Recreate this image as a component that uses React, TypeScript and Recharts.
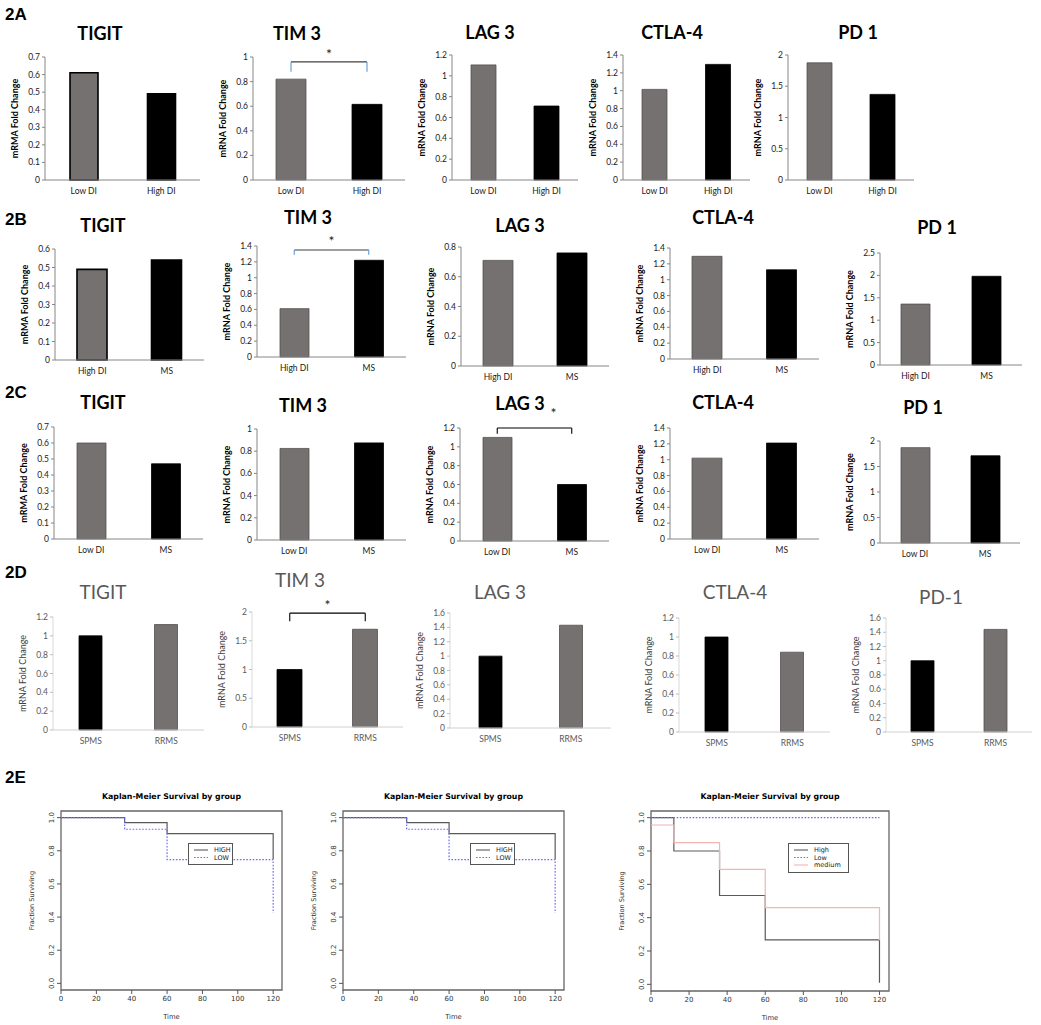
import React from "react";
import {
  BarChart, Bar, Cell, XAxis, YAxis, ReferenceLine,
  LineChart, Line, ReferenceArea, Legend,
} from "recharts";

// ---- bar panels (rows 2A-2D) ----
const genes = ["TIGIT", "TIM 3", "LAG 3", "CTLA-4", "PD 1"];
const genesD = ["TIGIT", "TIM 3", "LAG 3", "CTLA-4", "PD-1"];
const groupsA = ["Low DI", "High DI"];
const groupsB = ["High DI", "MS"];
const groupsC = ["Low DI", "MS"];
const groupsD = ["SPMS", "RRMS"];

const foldA = [[0.61, 0.49], [0.82, 0.615], [1.105, 0.71], [1.015, 1.295], [1.875, 1.37]];
const foldB = [[0.49, 0.54], [0.61, 1.22], [0.71, 0.76], [1.295, 1.125], [1.36, 1.98]];
const foldC = [[0.6, 0.47], [0.825, 0.875], [1.1, 0.6], [1.02, 1.21], [1.87, 1.71]];
const foldD = [[1.0, 1.12], [1.0, 1.7], [1.0, 1.43], [1.0, 0.84], [1.0, 1.44]];

const ticksA = [
  [0, 0.1, 0.2, 0.3, 0.4, 0.5, 0.6, 0.7],
  [0, 0.2, 0.4, 0.6, 0.8, 1],
  [0, 0.2, 0.4, 0.6, 0.8, 1, 1.2],
  [0, 0.2, 0.4, 0.6, 0.8, 1, 1.2, 1.4],
  [0, 0.5, 1, 1.5, 2],
];
const ticksB = [
  [0, 0.1, 0.2, 0.3, 0.4, 0.5, 0.6],
  [0, 0.2, 0.4, 0.6, 0.8, 1, 1.2, 1.4],
  [0, 0.2, 0.4, 0.6, 0.8],
  [0, 0.2, 0.4, 0.6, 0.8, 1, 1.2, 1.4],
  [0, 0.5, 1, 1.5, 2, 2.5],
];
const ticksC = [
  [0, 0.1, 0.2, 0.3, 0.4, 0.5, 0.6, 0.7],
  [0, 0.2, 0.4, 0.6, 0.8, 1],
  [0, 0.2, 0.4, 0.6, 0.8, 1, 1.2],
  [0, 0.2, 0.4, 0.6, 0.8, 1, 1.2, 1.4],
  [0, 0.5, 1, 1.5, 2],
];
const ticksD = [
  [0, 0.2, 0.4, 0.6, 0.8, 1, 1.2],
  [0, 0.5, 1, 1.5, 2],
  [0, 0.2, 0.4, 0.6, 0.8, 1, 1.2, 1.4, 1.6],
  [0, 0.2, 0.4, 0.6, 0.8, 1, 1.2],
  [0, 0.2, 0.4, 0.6, 0.8, 1, 1.2, 1.4, 1.6],
];

// significance bracket: [bar level, leg end]
const sigA = [null, [0.96, 0.88], null, null, null];
const sigB = [null, [1.35, 1.29], null, null, null];
const sigC = [null, null, [1.2, 1.14], null, null];
const sigD = [null, [1.98, 1.84], null, null, null];

// ---- Kaplan-Meier (2E) ----
const kmTimeTicks = [0, 20, 40, 60, 80, 100, 120];
const survTicks = [0, 0.2, 0.4, 0.6, 0.8, 1.0];
const km1High = [{ t: 0, s: 1 }, { t: 36, s: 0.97 }, { t: 60, s: 0.903 }, { t: 120, s: 0.75 }];
const km1Low = [{ t: 0, s: 1 }, { t: 36, s: 0.93 }, { t: 60, s: 0.747 }, { t: 120, s: 0.425 }];
const km3High = [{ t: 0, s: 1 }, { t: 12, s: 0.8 }, { t: 36, s: 0.533 }, { t: 60, s: 0.267 }, { t: 120, s: 0.01 }];
const km3Low = [{ t: 0, s: 1 }, { t: 120, s: 1 }];
const km3Medium = [{ t: 0, s: 0.956 }, { t: 12, s: 0.85 }, { t: 36, s: 0.69 }, { t: 60, s: 0.46 }, { t: 120, s: 0.265 }];

// page geometry (pixels)
const layA = { ax: [45, 253, 452, 623, 788], ex: [200, 405, 578, 750, 914], top: [57, 57, 55, 55, 55], zero: [180, 180, 180, 180, 180], bar: [28, 30, 25, 25, 25], tx: [100, 297, 490, 672, 858], ty: [33, 33, 32, 32, 32], star: 3, starDx: 0 };
const layB = { ax: [55, 257, 461, 670, 880], ex: [204, 406, 609, 819, 1022], top: [249, 246, 247, 248, 253], zero: [360, 357, 366, 359, 365], bar: [30, 29, 30, 30, 29], tx: [103, 308, 520, 723, 937], ty: [225, 217, 225, 217, 227], star: 4, starDx: 0 };
const layC = { ax: [54, 257, 460, 670, 880], ex: [203, 406, 609, 819, 1020], top: [427, 429, 428, 428, 441], zero: [539, 540, 541, 539, 543], bar: [29, 29, 29, 30, 29], tx: [103, 303, 520, 723, 923], ty: [402, 405, 403, 402, 407], star: 10, starDx: 19 };
const layD = { ax: [53, 252, 450, 679, 886], ex: [204, 403, 611, 830, 1032], top: [617, 612, 613, 618, 618], zero: [730, 727, 728, 732, 732], bar: [23, 25, 23, 23, 23], tx: [103, 300, 500, 735, 941], ty: [592, 580, 592, 592, 597], star: 3, starDx: 0 };

const rows = [
  { label: "2A", ly: 15, names: genes, cats: groupsA, vals: foldA, ticks: ticksA, sig: sigA, lay: layA, modern: false },
  { label: "2B", ly: 220, names: genes, cats: groupsB, vals: foldB, ticks: ticksB, sig: sigB, lay: layB, modern: false },
  { label: "2C", ly: 393, names: genes, cats: groupsC, vals: foldC, ticks: ticksC, sig: sigC, lay: layC, modern: false },
  { label: "2D", ly: 573, names: genesD, cats: groupsD, vals: foldD, ticks: ticksD, sig: sigD, lay: layD, modern: true },
];

const GREY = "#767171";
const FONT = "Lato, 'Open Sans', sans-serif";
const RFONT = "'DejaVu Sans', sans-serif";

function PanelLabel({ text, y }: { text: string; y: number }) {
  return (
    <div style={{ position: "absolute", left: 5, top: y - 10, fontFamily: "'Liberation Sans', Arial, sans-serif", fontWeight: 700, fontSize: 17, lineHeight: "20px", color: "#000" }}>
      {text}
    </div>
  );
}

function BarPanel({ row, i }: { row: any; i: number }) {
  const lay = row.lay;
  const ml = 8, yw = 36, mt = 30, xh = 22, mr = 4;
  const ax = lay.ax[i], ex = lay.ex[i], top = lay.top[i], zero = lay.zero[i];
  const left = ax - ml - yw;
  const width = ex - left + mr;
  const height = zero - top + mt + xh;
  const ticks: number[] = row.ticks[i];
  const cats: string[] = row.cats;
  const data = cats.map((c, k) => ({ cat: c, v: row.vals[i][k] }));
  const modern = row.modern;
  const fills = modern ? ["#000000", GREY] : [GREY, "#000000"];
  const heavy = !modern && i === 0 && (row.label === "2A" || row.label === "2B");
  const sig = row.sig[i];
  const yLabel = !modern && i === 0 ? "mRMA Fold Change" : "mRNA Fold Change";
  const txtCol = modern ? "#595959" : "#1a1a1a";
  const axisCol = modern ? "#d0d0d0" : "#868686";
  const legCol = row.label === "2A" || row.label === "2B" ? "#5b9bd5" : "#000";
  const barCol = row.label === "2A" || row.label === "2B" ? "#404040" : "#000";

  const star = (p: any) => {
    const vb = p.viewBox;
    return (
      <text x={vb.x + vb.width / 2 + lay.starDx} y={vb.y - lay.star} textAnchor="middle" fontSize={14} fill="#222" fontFamily={FONT}>
        *
      </text>
    );
  };

  return (
    <>
      <div
        style={{
          position: "absolute", left: lay.tx[i] - 45, width: 90, top: lay.ty[i] - 11,
          textAlign: "center", fontFamily: FONT, fontWeight: modern ? 400 : 700,
          fontSize: modern ? 19 : 18, lineHeight: "22px", color: modern ? "#595959" : "#000",
        }}
      >
        {row.names[i]}
      </div>
      <div style={{ position: "absolute", left, top: top - mt }}>
        <BarChart width={width} height={height} data={data} margin={{ top: mt, right: mr, left: ml, bottom: 0 }}>
          <XAxis
            dataKey="cat" height={xh} tickLine={false}
            axisLine={{ stroke: axisCol }}
            tick={{ fontSize: 8.5, fill: txtCol, fontFamily: FONT }}
          />
          <YAxis
            type="number" domain={[0, ticks[ticks.length - 1]]} ticks={ticks} interval={0}
            width={yw} tickSize={3} axisLine={{ stroke: modern ? "#d9d9d9" : axisCol }}
            tickLine={{ stroke: modern ? "#bfbfbf" : axisCol }}
            tick={{ fontSize: 8.5, fill: txtCol, fontFamily: FONT }}
            label={{
              value: yLabel, angle: -90, position: "insideLeft", offset: 6,
              style: { textAnchor: "middle", fontSize: 9, fontWeight: modern ? 400 : 700, fill: modern ? "#404040" : "#000", fontFamily: FONT },
            }}
          />
          <Bar dataKey="v" barSize={lay.bar[i]} isAnimationActive={false}>
            {data.map((d, k) => (
              <Cell
                key={d.cat}
                fill={fills[k]}
                stroke={heavy ? "#000" : fills[k] === GREY ? "#555050" : "#000"}
                strokeWidth={heavy ? 1.6 : 0.8}
              />
            ))}
          </Bar>
          {sig && (
            <ReferenceLine
              segment={[{ x: cats[0], y: sig[0] }, { x: cats[1], y: sig[0] }]}
              stroke={barCol} strokeWidth={1.1} ifOverflow="visible"
              label={star}
            />
          )}
          {sig && (
            <ReferenceLine segment={[{ x: cats[0], y: sig[0] }, { x: cats[0], y: sig[1] }]} stroke={legCol} strokeWidth={1.1} ifOverflow="visible" />
          )}
          {sig && (
            <ReferenceLine segment={[{ x: cats[1], y: sig[0] }, { x: cats[1], y: sig[1] }]} stroke={legCol} strokeWidth={1.1} ifOverflow="visible" />
          )}
        </BarChart>
      </div>
    </>
  );
}

const RotTick = (props: any) => {
  const { x, y, payload } = props;
  return (
    <text x={x - 1} y={y} transform={`rotate(-90 ${x - 1} ${y})`} textAnchor="middle" fontSize={7} fill="#333" fontFamily={RFONT}>
      {Number(payload.value).toFixed(1)}
    </text>
  );
};

const seriesStyle: Record<string, { stroke: string; dash?: string }> = {
  HIGH: { stroke: "#5a5a5a" },
  LOW: { stroke: "#6b6bff", dash: "1.6 1.6" },
  High: { stroke: "#5a5a5a" },
  Low: { stroke: "#6b6bff", dash: "1.6 1.6" },
  medium: { stroke: "#f2b4b4" },
};

function KMLegend({ names, w, h }: { names: string[]; w: number; h: number }) {
  return (
    <svg width={w} height={h} style={{ display: "block" }}>
      <rect x={0.5} y={0.5} width={w - 1} height={h - 1} fill="#fff" stroke="#555" strokeWidth={1} />
      {names.map((n, k) => {
        const yy = 7 + k * 7.5;
        return (
          <g key={n}>
            <line x1={6} x2={20} y1={yy} y2={yy} stroke={seriesStyle[n].stroke} strokeDasharray={seriesStyle[n].dash} strokeWidth={1.1} />
            <text x={26} y={yy + 2.3} fontSize={6.5} fill="#222" fontFamily={RFONT}>{n}</text>
          </g>
        );
      })}
    </svg>
  );
}

function KMPanel({ bl, br, bt, bb, series, legend }: {
  bl: number; br: number; bt: number; bb: number;
  series: { name: string; points: { t: number; s: number }[] }[];
  legend: { x: number; y: number; w: number; h: number };
}) {
  const ml = 6, yw = 34, mr = 6, mt = 4, xh = 34;
  const left = bl - ml - yw;
  const width = br - bl + ml + yw + mr;
  const height = bb - bt + mt + xh;
  return (
    <>
      <div
        style={{
          position: "absolute", left: bl, width: br - bl, top: 791,
          textAlign: "center", fontFamily: RFONT, fontWeight: 700, fontSize: 7.8, lineHeight: "12px", color: "#000",
        }}
      >
        Kaplan-Meier Survival by group
      </div>
      <div style={{ position: "absolute", left, top: bt - mt }}>
        <LineChart width={width} height={height} margin={{ top: mt, right: mr, left: ml, bottom: 0 }}>
          <XAxis
            type="number" dataKey="t" domain={[0, 125]} ticks={kmTimeTicks} interval={0} allowDataOverflow
            axisLine={false} tickLine={{ stroke: "#555" }} tickSize={4} height={xh}
            tick={{ fontSize: 7, fill: "#333", fontFamily: RFONT }}
            label={{ value: "Time", position: "insideBottom", offset: 5, style: { fontSize: 6.8, fill: "#333", fontFamily: RFONT } }}
          />
          <YAxis
            type="number" domain={[-0.04, 1.04]} ticks={survTicks} interval={0} allowDataOverflow
            axisLine={false} tickLine={{ stroke: "#555" }} tickSize={4} width={yw} tick={<RotTick />}
            label={{
              value: "Fraction Surviving", angle: -90, position: "insideLeft", offset: 5,
              style: { textAnchor: "middle", fontSize: 6.6, fill: "#333", fontFamily: RFONT },
            }}
          />
          <ReferenceArea x1={0} x2={125} y1={-0.04} y2={1.04} fill="none" stroke="#666" strokeWidth={1.3} ifOverflow="visible" />
          {series.map((s) => (
            <Line
              key={s.name} data={s.points} dataKey="s" name={s.name} type="stepAfter"
              stroke={seriesStyle[s.name].stroke} strokeDasharray={seriesStyle[s.name].dash}
              strokeWidth={1.2} dot={false} activeDot={false} isAnimationActive={false}
            />
          ))}
          <Legend
            layout="vertical" align="center" verticalAlign="middle"
            wrapperStyle={{ left: legend.x - left, top: legend.y - (bt - mt), width: legend.w, height: legend.h }}
            content={() => <KMLegend names={series.map((s) => s.name)} w={legend.w} h={legend.h} />}
          />
        </LineChart>
      </div>
    </>
  );
}

export default function App() {
  return (
    <div style={{ position: "absolute", left: 0, top: 0, width: 1041, height: 1025, background: "#fff", overflow: "hidden" }}>
      {rows.map((row) => (
        <React.Fragment key={row.label}>
          <PanelLabel text={row.label} y={row.ly} />
          {row.names.map((_, i) => (
            <BarPanel key={row.label + i} row={row} i={i} />
          ))}
        </React.Fragment>
      ))}
      <PanelLabel text="2E" y={778} />
      <KMPanel
        bl={61} br={282} bt={811} bb={990}
        series={[{ name: "HIGH", points: km1High }, { name: "LOW", points: km1Low }]}
        legend={{ x: 188, y: 843, w: 45, h: 22 }}
      />
      <KMPanel
        bl={343} br={564} bt={811} bb={990}
        series={[{ name: "HIGH", points: km1High }, { name: "LOW", points: km1Low }]}
        legend={{ x: 470, y: 843, w: 45, h: 22 }}
      />
      <KMPanel
        bl={651} br={889} bt={811} bb={991}
        series={[{ name: "High", points: km3High }, { name: "Low", points: km3Low }, { name: "medium", points: km3Medium }]}
        legend={{ x: 788, y: 843, w: 61, h: 30 }}
      />
    </div>
  );
}
